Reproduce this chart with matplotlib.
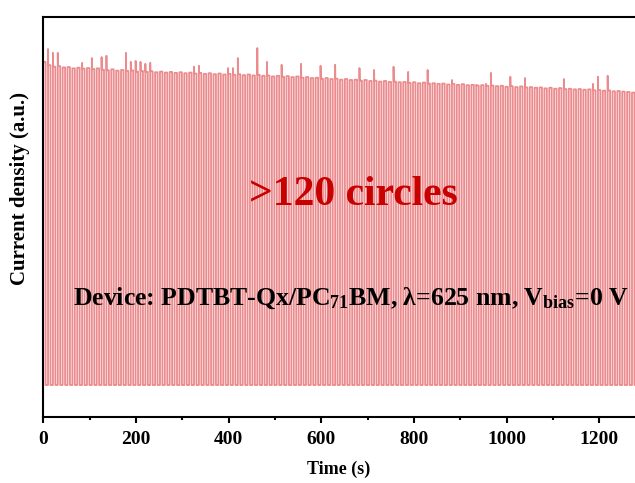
import numpy as np
import matplotlib
matplotlib.use("Agg")
from matplotlib import pyplot as plt

plt.rcParams['font.family'] = ['Liberation Serif', 'DejaVu Serif']
plt.rcParams['font.weight'] = 'bold'
plt.rcParams['mathtext.fontset'] = 'custom'
plt.rcParams['mathtext.rm'] = 'Liberation Serif:bold'
plt.rcParams['mathtext.bf'] = 'Liberation Serif:bold'
plt.rcParams['mathtext.it'] = 'Liberation Serif:bold'
plt.rcParams['mathtext.default'] = 'bf'

# light on/off cycling, one period per cycle
period = 10.5
base_level = 0.0

# photocurrent plateau of each light-on cycle (a.u.)
on_levels = [
    1.000, 0.990, 0.985, 0.987, 0.983, 0.984, 0.980, 0.982, 0.979, 0.981,
    0.978, 0.980, 0.976, 0.974, 0.977, 0.973, 0.975, 0.972, 0.974, 0.970,
    0.972, 0.969, 0.971, 0.968, 0.970, 0.967, 0.969, 0.966, 0.968, 0.965,
    0.967, 0.964, 0.966, 0.963, 0.965, 0.962, 0.964, 0.961, 0.963, 0.960,
    0.962, 0.959, 0.961, 0.958, 0.960, 0.957, 0.958, 0.955, 0.957, 0.954,
    0.956, 0.953, 0.955, 0.951, 0.953, 0.950, 0.951, 0.948, 0.950, 0.947,
    0.948, 0.945, 0.947, 0.944, 0.945, 0.942, 0.944, 0.941, 0.942, 0.939,
    0.941, 0.938, 0.939, 0.937, 0.938, 0.935, 0.937, 0.934, 0.936, 0.933,
    0.934, 0.932, 0.933, 0.930, 0.932, 0.929, 0.931, 0.928, 0.929, 0.927,
    0.928, 0.926, 0.927, 0.925, 0.926, 0.923, 0.925, 0.922, 0.924, 0.921,
    0.922, 0.920, 0.921, 0.918, 0.920, 0.917, 0.919, 0.916, 0.917, 0.915,
    0.916, 0.914, 0.915, 0.912, 0.913, 0.911, 0.912, 0.909, 0.910, 0.908,
    0.907, 0.905,
]

# overshoot spikes at switch-on: cycle index and peak value
spike_cycles = [1, 2, 3, 8, 10, 12, 13, 17, 18, 19, 20, 21, 22, 31, 32, 38, 39,
                40, 44, 46, 49, 53, 57, 60, 65, 68, 72, 75, 79, 84, 89, 91, 92,
                96, 99, 107, 113, 114, 116]
spike_peaks = [1.040, 1.028, 1.028, 0.997, 1.012, 1.015, 1.019, 1.028, 1.000,
               1.003, 1.000, 0.994, 0.997, 0.985, 0.988, 0.981, 0.981, 1.012,
               1.043, 1.000, 0.991, 0.994, 0.988, 0.991, 0.981, 0.975, 0.985,
               0.969, 0.975, 0.944, 0.929, 0.932, 0.966, 0.954, 0.950, 0.947,
               0.932, 0.954, 0.957]

peaks = dict(zip(spike_cycles, spike_peaks))
t, j = [], []
for k, level in enumerate(on_levels):
    t0 = k * period
    top = peaks.get(k, level)
    t += [t0, t0, t0 + 0.3, t0 + period / 2, t0 + period / 2, t0 + period]
    j += [base_level, top, level, level, base_level, base_level]

fig = plt.figure(figsize=(6.35, 4.83), dpi=100)
ax = fig.add_axes([0.068, 0.1366, 0.932, 0.8282])

ax.plot(t, j, color='#e35a5e', lw=1.3, alpha=0.7)

ax.set_xlim(0, 1277)
ax.set_ylim(-0.099, 1.139)
ax.set_xticks(np.arange(0, 1277, 200))
ax.set_xticks(np.arange(100, 1277, 200), minor=True)
ax.set_yticks([])
ax.tick_params(axis='x', which='major', length=4, width=1.5, labelsize=14, pad=6)
ax.tick_params(axis='x', which='minor', length=2.5, width=1.5)
for lab in ax.get_xticklabels():
    lab.set_fontweight('bold')

for side in ['left', 'bottom', 'top']:
    ax.spines[side].set_linewidth(1.5)
ax.spines['right'].set_visible(False)

ax.set_xlabel('Time (s)', fontsize=13, fontweight='bold', labelpad=9)
ax.set_ylabel('Current density (a.u.)', fontsize=15, fontweight='bold')
ax.yaxis.set_label_coords(-0.022, 0.572)

ax.text(0.524, 0.555, '>120 circles', transform=ax.transAxes, ha='center', va='center',
        fontsize=30, fontweight='bold', color='#c80000')
ax.text(0.519, 0.298, r'Device: PDTBT-Qx/PC$_{71}$BM, λ=625 nm, V$_{bias}$=0 V',
        transform=ax.transAxes, ha='center', va='center', fontsize=18.5,
        fontweight='bold', color='black')

fig.savefig('out.png', dpi=100)
